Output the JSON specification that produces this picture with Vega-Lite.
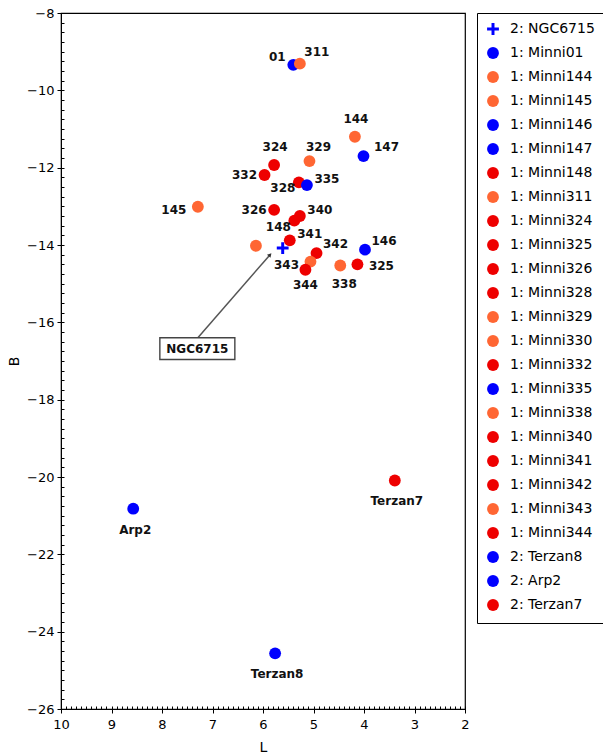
{
  "$schema": "https://vega.github.io/schema/vega-lite/v6.json",
  "width": 404,
  "height": 696,
  "autosize": "none",
  "padding": {"left": 61, "top": 13, "right": 138, "bottom": 47},
  "background": "white",
  "config": {
    "view": {"stroke": "#000", "strokeWidth": 1.2},
    "font": "DejaVu Sans"
  },
  "resolve": {"axis": {"x": "independent", "y": "independent"}},
  "datasets": {
    "pts": [
      {"name": "2: NGC6715", "label": "", "L": 5.61, "B": -14.08},
      {"name": "1: Minni01", "label": "01", "L": 5.40, "B": -9.34},
      {"name": "1: Minni144", "label": "144", "L": 4.18, "B": -11.20},
      {"name": "1: Minni145", "label": "145", "L": 7.29, "B": -13.01},
      {"name": "1: Minni146", "label": "146", "L": 3.98, "B": -14.12},
      {"name": "1: Minni147", "label": "147", "L": 4.01, "B": -11.70},
      {"name": "1: Minni148", "label": "148", "L": 5.38, "B": -13.37},
      {"name": "1: Minni311", "label": "311", "L": 5.27, "B": -9.31},
      {"name": "1: Minni324", "label": "324", "L": 5.78, "B": -11.93},
      {"name": "1: Minni325", "label": "325", "L": 4.13, "B": -14.50},
      {"name": "1: Minni326", "label": "326", "L": 5.78, "B": -13.09},
      {"name": "1: Minni328", "label": "328", "L": 5.29, "B": -12.38},
      {"name": "1: Minni329", "label": "329", "L": 5.08, "B": -11.83},
      {"name": "1: Minni330", "label": "", "L": 6.14, "B": -14.02},
      {"name": "1: Minni332", "label": "332", "L": 5.97, "B": -12.19},
      {"name": "1: Minni335", "label": "335", "L": 5.13, "B": -12.45},
      {"name": "1: Minni338", "label": "338", "L": 4.47, "B": -14.53},
      {"name": "1: Minni340", "label": "340", "L": 5.27, "B": -13.25},
      {"name": "1: Minni341", "label": "341", "L": 5.47, "B": -13.88},
      {"name": "1: Minni342", "label": "342", "L": 4.94, "B": -14.21},
      {"name": "1: Minni343", "label": "343", "L": 5.06, "B": -14.43},
      {"name": "1: Minni344", "label": "344", "L": 5.16, "B": -14.64},
      {"name": "2: Terzan8", "label": "Terzan8", "L": 5.76, "B": -24.56},
      {"name": "2: Arp2", "label": "Arp2", "L": 8.57, "B": -20.82},
      {"name": "2: Terzan7", "label": "Terzan7", "L": 3.39, "B": -20.09}
    ]
  },
  "data": {"name": "pts"},
  "layer": [
    {
      "mark": {"type": "point", "filled": true, "opacity": 1, "size": 140},
      "encoding": {
        "x": {
          "field": "L", "type": "quantitative",
          "scale": {"domain": [2, 10], "reverse": true, "nice": false, "zero": false},
          "axis": {
            "orient": "bottom",
            "title": "L",
            "values": [2, 3, 4, 5, 6, 7, 8, 9, 10],
            "format": "d",
            "tickSize": 4,
            "labelPadding": 5,
            "labelFlush": false, "labelOverlap": false, "labelBound": false,
            "grid": false, "domainColor": "#000", "tickColor": "#000", "labelColor": "#000",
            "labelFont": "DejaVu Sans", "labelFontSize": 13,
            "titleFont": "DejaVu Sans", "titleFontSize": 14, "titleFontWeight": "normal", "titleColor": "#000",
            "titlePadding": 9
          }
        },
        "y": {
          "field": "B", "type": "quantitative",
          "scale": {"domain": [-26, -8], "nice": false, "zero": false},
          "axis": {
            "orient": "left",
            "title": "B",
            "values": [-26, -24, -22, -20, -18, -16, -14, -12, -10, -8],
            "format": "d",
            "tickSize": 4,
            "labelPadding": 3,
            "labelFlush": false, "labelOverlap": false, "labelBound": false,
            "grid": false, "domainColor": "#000", "tickColor": "#000", "labelColor": "#000",
            "labelFont": "DejaVu Sans", "labelFontSize": 13,
            "titleFont": "DejaVu Sans", "titleFontSize": 14, "titleFontWeight": "normal", "titleColor": "#000",
            "titlePadding": 5
          }
        },
        "color": {
          "field": "name", "type": "nominal",
          "scale": {
            "domain": ["2: NGC6715","1: Minni01","1: Minni144","1: Minni145","1: Minni146","1: Minni147","1: Minni148","1: Minni311","1: Minni324","1: Minni325","1: Minni326","1: Minni328","1: Minni329","1: Minni330","1: Minni332","1: Minni335","1: Minni338","1: Minni340","1: Minni341","1: Minni342","1: Minni343","1: Minni344","2: Terzan8","2: Arp2","2: Terzan7"],
            "range": ["#0000ff","#0000ff","#ff6633","#ff6633","#0000ff","#0000ff","#ee0000","#ff6633","#ee0000","#ee0000","#ee0000","#ee0000","#ff6633","#ff6633","#ee0000","#0000ff","#ff6633","#ee0000","#ee0000","#ee0000","#ff6633","#ee0000","#0000ff","#0000ff","#ee0000"]
          },
          "legend": {
            "title": null,
            "orient": "right",
            "offset": 12,
            "padding": 9,
            "rowPadding": 6,
            "strokeColor": "#000",
            "fillColor": "#fff",
            "symbolSize": 140,
            "symbolOpacity": 1,
            "labelFont": "DejaVu Sans",
            "labelFontSize": 14,
            "labelColor": "#000",
            "labelOffset": 10,
            "labelLimit": 200
          }
        },
        "shape": {
          "field": "name", "type": "nominal",
          "scale": {
            "domain": ["2: NGC6715","1: Minni01","1: Minni144","1: Minni145","1: Minni146","1: Minni147","1: Minni148","1: Minni311","1: Minni324","1: Minni325","1: Minni326","1: Minni328","1: Minni329","1: Minni330","1: Minni332","1: Minni335","1: Minni338","1: Minni340","1: Minni341","1: Minni342","1: Minni343","1: Minni344","2: Terzan8","2: Arp2","2: Terzan7"],
            "range": ["M-1,-0.25H1V0.25H-1Z M-0.25,-1H0.25V1H-0.25Z","circle","circle","circle","circle","circle","circle","circle","circle","circle","circle","circle","circle","circle","circle","circle","circle","circle","circle","circle","circle","circle","circle","circle","circle"]
          },
          "legend": {
            "title": null,
            "orient": "right",
            "offset": 12,
            "padding": 9,
            "rowPadding": 6,
            "strokeColor": "#000",
            "fillColor": "#fff",
            "symbolSize": 140,
            "symbolOpacity": 1,
            "labelFont": "DejaVu Sans",
            "labelFontSize": 14,
            "labelColor": "#000",
            "labelOffset": 10,
            "labelLimit": 200
          }
        }
      }
    },
    {
      "transform": [{"filter": {"field": "label", "oneOf": ["01"]}}],
      "mark": {"type": "text", "dx": -16, "dy": -8, "font": "DejaVu Sans", "fontWeight": "bold", "fontSize": 12, "color": "#111"},
      "encoding": {
        "x": {
          "field": "L", "type": "quantitative",
          "axis": {
            "orient": "bottom", "title": null, "labels": false, "domain": false, "grid": false,
            "tickSize": -3, "tickColor": "#000",
            "values": [2,2.1,2.2,2.3,2.4,2.5,2.6,2.7,2.8,2.9,3,3.1,3.2,3.3,3.4,3.5,3.6,3.7,3.8,3.9,4,4.1,4.2,4.3,4.4,4.5,4.6,4.7,4.8,4.9,5,5.1,5.2,5.3,5.4,5.5,5.6,5.7,5.8,5.9,6,6.1,6.2,6.3,6.4,6.5,6.6,6.7,6.8,6.9,7,7.1,7.2,7.3,7.4,7.5,7.6,7.7,7.8,7.9,8,8.1,8.2,8.3,8.4,8.5,8.6,8.7,8.8,8.9,9,9.1,9.2,9.3,9.4,9.5,9.6,9.7,9.8,9.9,10]
          }
        },
        "y": {
          "field": "B", "type": "quantitative",
          "axis": {
            "orient": "left", "title": null, "labels": false, "domain": false, "grid": false,
            "tickSize": -3, "tickColor": "#000",
            "values": [-26,-25.75,-25.5,-25.25,-25,-24.75,-24.5,-24.25,-24,-23.75,-23.5,-23.25,-23,-22.75,-22.5,-22.25,-22,-21.75,-21.5,-21.25,-21,-20.75,-20.5,-20.25,-20,-19.75,-19.5,-19.25,-19,-18.75,-18.5,-18.25,-18,-17.75,-17.5,-17.25,-17,-16.75,-16.5,-16.25,-16,-15.75,-15.5,-15.25,-15,-14.75,-14.5,-14.25,-14,-13.75,-13.5,-13.25,-13,-12.75,-12.5,-12.25,-12,-11.75,-11.5,-11.25,-11,-10.75,-10.5,-10.25,-10,-9.75,-9.5,-9.25,-9,-8.75,-8.5,-8.25,-8]
          }
        },
        "text": {"field": "label"}
      }
    },
    {"transform": [{"filter": {"field": "label", "oneOf": ["311"]}}], "mark": {"type": "text", "dx": 17, "dy": -12, "font": "DejaVu Sans", "fontWeight": "bold", "fontSize": 12, "color": "#111"}, "encoding": {"x": {"field": "L", "type": "quantitative", "axis": null}, "y": {"field": "B", "type": "quantitative", "axis": null}, "text": {"field": "label"}}},
    {"transform": [{"filter": {"field": "label", "oneOf": ["144", "324"]}}], "mark": {"type": "text", "dx": 1, "dy": -18, "font": "DejaVu Sans", "fontWeight": "bold", "fontSize": 12, "color": "#111"}, "encoding": {"x": {"field": "L", "type": "quantitative", "axis": null}, "y": {"field": "B", "type": "quantitative", "axis": null}, "text": {"field": "label"}}},
    {"transform": [{"filter": {"field": "label", "oneOf": ["329"]}}], "mark": {"type": "text", "dx": 9, "dy": -14, "font": "DejaVu Sans", "fontWeight": "bold", "fontSize": 12, "color": "#111"}, "encoding": {"x": {"field": "L", "type": "quantitative", "axis": null}, "y": {"field": "B", "type": "quantitative", "axis": null}, "text": {"field": "label"}}},
    {"transform": [{"filter": {"field": "label", "oneOf": ["147"]}}], "mark": {"type": "text", "dx": 23, "dy": -9, "font": "DejaVu Sans", "fontWeight": "bold", "fontSize": 12, "color": "#111"}, "encoding": {"x": {"field": "L", "type": "quantitative", "axis": null}, "y": {"field": "B", "type": "quantitative", "axis": null}, "text": {"field": "label"}}},
    {"transform": [{"filter": {"field": "label", "oneOf": ["146", "342"]}}], "mark": {"type": "text", "dx": 19, "dy": -9, "font": "DejaVu Sans", "fontWeight": "bold", "fontSize": 12, "color": "#111"}, "encoding": {"x": {"field": "L", "type": "quantitative", "axis": null}, "y": {"field": "B", "type": "quantitative", "axis": null}, "text": {"field": "label"}}},
    {"transform": [{"filter": {"field": "label", "oneOf": ["341", "340", "335"]}}], "mark": {"type": "text", "dx": 20, "dy": -6, "font": "DejaVu Sans", "fontWeight": "bold", "fontSize": 12, "color": "#111"}, "encoding": {"x": {"field": "L", "type": "quantitative", "axis": null}, "y": {"field": "B", "type": "quantitative", "axis": null}, "text": {"field": "label"}}},
    {"transform": [{"filter": {"field": "label", "oneOf": ["325"]}}], "mark": {"type": "text", "dx": 24, "dy": 2, "font": "DejaVu Sans", "fontWeight": "bold", "fontSize": 12, "color": "#111"}, "encoding": {"x": {"field": "L", "type": "quantitative", "axis": null}, "y": {"field": "B", "type": "quantitative", "axis": null}, "text": {"field": "label"}}},
    {"transform": [{"filter": {"field": "label", "oneOf": ["332", "326"]}}], "mark": {"type": "text", "dx": -20, "dy": 0, "font": "DejaVu Sans", "fontWeight": "bold", "fontSize": 12, "color": "#111"}, "encoding": {"x": {"field": "L", "type": "quantitative", "axis": null}, "y": {"field": "B", "type": "quantitative", "axis": null}, "text": {"field": "label"}}},
    {"transform": [{"filter": {"field": "label", "oneOf": ["145", "343"]}}], "mark": {"type": "text", "dx": -24, "dy": 3, "font": "DejaVu Sans", "fontWeight": "bold", "fontSize": 12, "color": "#111"}, "encoding": {"x": {"field": "L", "type": "quantitative", "axis": null}, "y": {"field": "B", "type": "quantitative", "axis": null}, "text": {"field": "label"}}},
    {"transform": [{"filter": {"field": "label", "oneOf": ["328", "148"]}}], "mark": {"type": "text", "dx": -16, "dy": 6, "font": "DejaVu Sans", "fontWeight": "bold", "fontSize": 12, "color": "#111"}, "encoding": {"x": {"field": "L", "type": "quantitative", "axis": null}, "y": {"field": "B", "type": "quantitative", "axis": null}, "text": {"field": "label"}}},
    {"transform": [{"filter": {"field": "label", "oneOf": ["344"]}}], "mark": {"type": "text", "dx": 0, "dy": 15, "font": "DejaVu Sans", "fontWeight": "bold", "fontSize": 12, "color": "#111"}, "encoding": {"x": {"field": "L", "type": "quantitative", "axis": null}, "y": {"field": "B", "type": "quantitative", "axis": null}, "text": {"field": "label"}}},
    {"transform": [{"filter": {"field": "label", "oneOf": ["338"]}}], "mark": {"type": "text", "dx": 4, "dy": 19, "font": "DejaVu Sans", "fontWeight": "bold", "fontSize": 12, "color": "#111"}, "encoding": {"x": {"field": "L", "type": "quantitative", "axis": null}, "y": {"field": "B", "type": "quantitative", "axis": null}, "text": {"field": "label"}}},
    {"transform": [{"filter": {"field": "label", "oneOf": ["Arp2", "Terzan7", "Terzan8"]}}], "mark": {"type": "text", "dx": 2, "dy": 21, "font": "DejaVu Sans", "fontWeight": "bold", "fontSize": 12, "color": "#111"}, "encoding": {"x": {"field": "L", "type": "quantitative", "axis": null}, "y": {"field": "B", "type": "quantitative", "axis": null}, "text": {"field": "label"}}},
    {
      "data": {"values": [{"L": 7.29, "B": -16.40, "L2": 5.86, "B2": -14.25}]},
      "mark": {"type": "rule", "color": "#555", "strokeWidth": 1.5},
      "encoding": {
        "x": {"field": "L", "type": "quantitative", "axis": null},
        "y": {"field": "B", "type": "quantitative", "axis": null},
        "x2": {"field": "L2"},
        "y2": {"field": "B2"}
      }
    },
    {
      "data": {"values": [{"L": 5.86, "B": -14.25}]},
      "mark": {"type": "point", "shape": "triangle-up", "filled": true, "opacity": 1, "color": "#333", "size": 22, "angle": 41},
      "encoding": {
        "x": {"field": "L", "type": "quantitative", "axis": null},
        "y": {"field": "B", "type": "quantitative", "axis": null}
      }
    },
    {
      "data": {"values": [{"label": "NGC6715", "L": 7.30, "B": -16.68}]},
      "mark": {"type": "point", "shape": "M-1,-0.29H1V0.29H-1Z", "filled": false, "opacity": 1, "color": "#444", "fill": "#fff", "fillOpacity": 1, "strokeWidth": 1.4, "size": 5625},
      "encoding": {
        "x": {"field": "L", "type": "quantitative", "axis": null},
        "y": {"field": "B", "type": "quantitative", "axis": null}
      }
    },
    {
      "data": {"values": [{"label": "NGC6715", "L": 7.30, "B": -16.68}]},
      "mark": {"type": "text", "font": "DejaVu Sans", "fontWeight": "bold", "fontSize": 12, "color": "#111"},
      "encoding": {
        "x": {"field": "L", "type": "quantitative", "axis": null},
        "y": {"field": "B", "type": "quantitative", "axis": null},
        "text": {"field": "label"}
      }
    }
  ]
}
